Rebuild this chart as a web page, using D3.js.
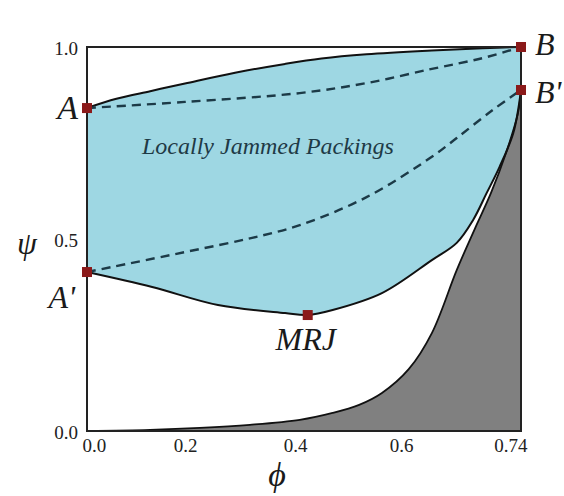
<!DOCTYPE html>
<html><head><meta charset="utf-8">
<script src="https://cdn.jsdelivr.net/npm/d3@7"></script>
<style>body{margin:0;background:#fff}svg{display:block}</style>
</head><body>
<svg id="chart" width="564" height="496"></svg>
<script>
// ---- data (phi, psi) ----
const xTicks = [0, 0.2, 0.4, 0.6, 0.74];
const xTickLabels = ["0.0", "0.2", "0.4", "0.6", "0.74"];
const yTicks = [0, 0.5, 1.0];
const yTickLabels = ["0.0", "0.5", "1.0"];

const upperPhi = [0, 0.06, 0.129, 0.2, 0.291, 0.382, 0.45, 0.535, 0.636, 0.695, 0.74];
const upperPsi = [0.841, 0.865, 0.885, 0.905, 0.933, 0.956, 0.970, 0.981, 0.991, 0.997, 1.0];

const lowerPhi = [0, 0.133, 0.260, 0.382, 0.424, 0.471, 0.564, 0.636, 0.665, 0.684, 0.700, 0.715, 0.731, 0.74];
const lowerPsi = [0.414, 0.375, 0.328, 0.307, 0.302, 0.315, 0.359, 0.445, 0.490, 0.549, 0.620, 0.688, 0.776, 0.888];

const dashABPhi = [0, 0.2, 0.409, 0.535, 0.636, 0.695, 0.74];
const dashABPsi = [0.841, 0.857, 0.880, 0.906, 0.943, 0.971, 1.0];

const dashApBpPhi = [0, 0.2, 0.322, 0.409, 0.535, 0.636, 0.665, 0.707, 0.74];
const dashApBpPsi = [0.414, 0.466, 0.503, 0.536, 0.609, 0.714, 0.763, 0.836, 0.888];

const grayPhi = [0, 0.129, 0.227, 0.318, 0.409, 0.471, 0.521, 0.564, 0.609, 0.636, 0.665, 0.686, 0.705, 0.7225, 0.7365, 0.74];
const grayPsi = [0, 0.003, 0.008, 0.016, 0.029, 0.047, 0.068, 0.099, 0.161, 0.255, 0.419, 0.526, 0.620, 0.724, 0.828, 0.888];

const pointNames = ["A", "A'", "B", "B'", "MRJ"];
const pointPhi = [0, 0, 0.74, 0.74, 0.424];
const pointPsi = [0.841, 0.414, 1.0, 0.888, 0.302];

const regionLabel = "Locally Jammed Packings";
const xTitle = "\u03D5";
const yTitle = "\u03C8";

// ---- drawing ----
const serif = "'Liberation Serif'";
const svg = d3.select("#chart");
const x = d3.scaleLinear().domain(xTicks).range([87, 185, 295, 401, 521]);
const y = d3.scaleLinear().domain([0, 1]).range([431, 47]);

const zip = (a, b) => a.map((v, i) => [v, b[i]]);
const upper = zip(upperPhi, upperPsi);
const lower = zip(lowerPhi, lowerPsi);
const dashAB = zip(dashABPhi, dashABPsi);
const dashApBp = zip(dashApBpPhi, dashApBpPsi);
const gray = zip(grayPhi, grayPsi);

const curve = d3.curveCatmullRom.alpha(0.5);
const line = d3.line().x(d => x(d[0])).y(d => y(d[1])).curve(curve);
const area = d3.area().x(d => x(d[0])).y0(y(0)).y1(d => y(d[1])).curve(curve);

svg.append("path").attr("d", area(upper)).attr("fill", "#9ed7e3");
svg.append("path").attr("d", area(lower)).attr("fill", "#ffffff");
svg.append("path").attr("d", area(gray)).attr("fill", "#808080");

svg.append("path").attr("d", line(upper)).attr("fill", "none").attr("stroke", "#111").attr("stroke-width", 2);
svg.append("path").attr("d", line(lower)).attr("fill", "none").attr("stroke", "#111").attr("stroke-width", 2);
svg.append("path").attr("d", line(gray)).attr("fill", "none").attr("stroke", "#111").attr("stroke-width", 1.8);

[dashAB, dashApBp].forEach(d => {
  svg.append("path").attr("d", line(d)).attr("fill", "none")
    .attr("stroke", "#1c3a47").attr("stroke-width", 2.4).attr("stroke-dasharray", "9,6");
});

// frame
svg.append("rect").attr("x", x(0)).attr("y", y(1))
  .attr("width", x(0.74) - x(0)).attr("height", y(0) - y(1))
  .attr("fill", "none").attr("stroke", "#222").attr("stroke-width", 2);

// axes
const xAxis = svg.append("g").attr("transform", `translate(0,${y(0)})`)
  .call(d3.axisBottom(x).tickValues(xTicks).tickSize(0).tickFormat((d, i) => xTickLabels[i]));
xAxis.attr("font-family", null).attr("font-size", null);
xAxis.select(".domain").remove();
xAxis.selectAll("text").attr("y", 21).attr("dy", 0)
  .style("font-family", serif).style("font-size", "19px").attr("fill", "#222")
  .each(function(d, i) {
    if (i === 0) d3.select(this).attr("text-anchor", "start").attr("dx", -5);
    if (i === xTicks.length - 1) d3.select(this).attr("text-anchor", "end").attr("dx", 6);
  });

const yAxis = svg.append("g").attr("transform", `translate(${x(0)},0)`)
  .call(d3.axisLeft(y).tickValues(yTicks).tickSize(0).tickPadding(9).tickFormat((d, i) => yTickLabels[i]));
yAxis.attr("font-family", null).attr("font-size", null);
yAxis.select(".domain").remove();
yAxis.selectAll("text").attr("dy", "0.42em")
  .style("font-family", serif).style("font-size", "19px").attr("fill", "#222");

// markers
svg.selectAll("rect.pt").data(pointNames).enter().append("rect").attr("class", "pt")
  .attr("x", (d, i) => x(pointPhi[i]) - 5).attr("y", (d, i) => y(pointPsi[i]) - 5)
  .attr("width", 10).attr("height", 10).attr("fill", "#8b1a1a");

// point labels
const lbl = (t, px, py, anchor, size) => svg.append("text").text(t)
  .attr("x", px).attr("y", py).attr("text-anchor", anchor)
  .style("font-family", serif).style("font-style", "italic").style("font-size", size + "px").attr("fill", "#1a1a1a");
lbl(pointNames[0], x(pointPhi[0]) - 9, y(pointPsi[0]) + 11, "end", 34);
lbl(pointNames[1], x(pointPhi[1]) - 12, y(pointPsi[1]) + 36, "end", 32);
lbl(pointNames[2], x(pointPhi[2]) + 14, y(pointPsi[2]) + 8, "start", 32);
lbl(pointNames[3], x(pointPhi[3]) + 14, y(pointPsi[3]) + 13, "start", 32);
lbl(pointNames[4], x(pointPhi[4]) - 2, y(pointPsi[4]) + 35, "middle", 32);

// region label
svg.append("text").text(regionLabel).attr("x", 142).attr("y", 154)
  .style("font-family", serif).style("font-style", "italic").style("font-size", "24px").attr("fill", "#1e3a46");

// axis titles
svg.append("text").text(xTitle).attr("x", 277).attr("y", 486).attr("text-anchor", "middle")
  .style("font-family", serif).style("font-style", "italic").style("font-size", "34px").attr("fill", "#1a1a1a");
svg.append("text").text(yTitle).attr("x", 27).attr("y", 254).attr("text-anchor", "middle")
  .style("font-family", serif).style("font-style", "italic").style("font-size", "32px").attr("fill", "#1a1a1a");
</script>
</body></html>
